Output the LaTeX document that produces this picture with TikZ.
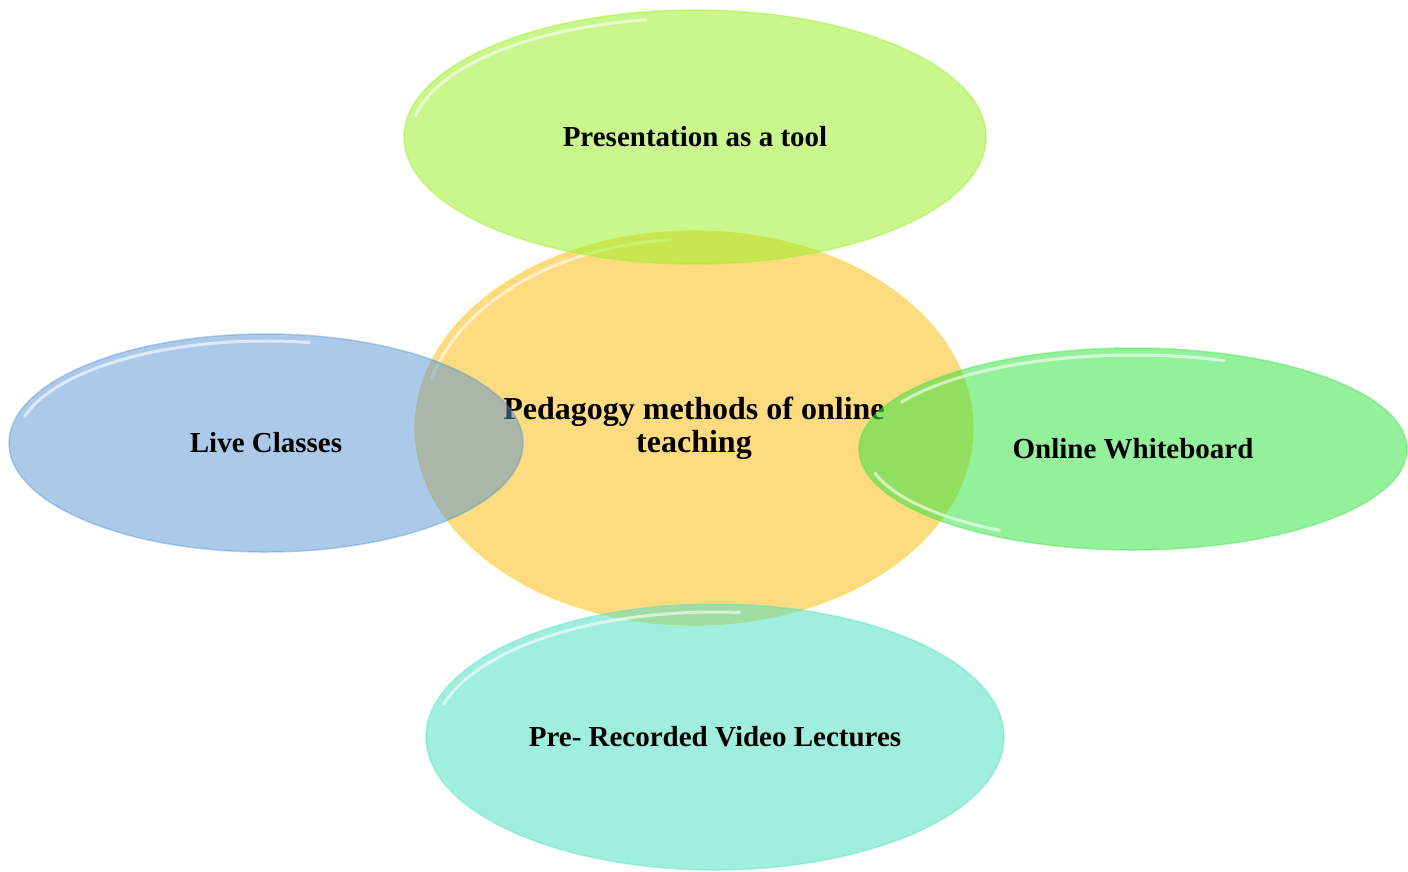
\documentclass[tikz,border=0pt]{standalone}
\usepackage{fontspec}
\setmainfont{Liberation Serif}
\usetikzlibrary{shapes.geometric}
\definecolor{cyel}{RGB}{253,219,126}
\definecolor{cyelb}{RGB}{250,225,110}
\definecolor{cgrn}{RGB}{157,240,44}
\definecolor{cblu}{RGB}{87,147,211}
\definecolor{cwb}{RGB}{59,228,73}
\definecolor{cteal}{RGB}{82,224,193}
\begin{document}
\begin{tikzpicture}[x=1pt,y=-1pt,
  blob/.style={ellipse, inner sep=0pt, align=center, font=\fontsize{29}{32}\selectfont\bfseries, text=black, text opacity=1},
  shine/.style={draw=white, line width=3pt, opacity=0.6, line cap=round}]
\useasboundingbox (0,0) rectangle (1408,871);
% centre
\node[blob, font=\fontsize{32}{33}\selectfont\bfseries, fill=cyel, draw=cyelb, line width=1.2pt, minimum width=558pt, minimum height=394pt] (c) at (694,428) {Pedagogy methods of online\\teaching};
\draw[shine] (c.center) ++(-95:272 and 189) arc[start angle=-95, end angle=-165, x radius=272, y radius=189];
% top
\node[blob, fill=cgrn, fill opacity=0.55, draw=cgrn, draw opacity=0.45, line width=1.5pt, minimum width=582pt, minimum height=254pt] (t) at (695,137) {Presentation as a tool};
\draw[shine] (t.center) ++(-100:284 and 119) arc[start angle=-100, end angle=-170, x radius=284, y radius=119];
% left
\node[blob, fill=cblu, fill opacity=0.5, draw=cblu, draw opacity=0.4, line width=1.5pt, minimum width=514pt, minimum height=218pt] (l) at (266,443) {Live Classes};
\draw[shine] (l.center) ++(-80:250 and 102) arc[start angle=-80, end angle=-165, x radius=250, y radius=102];
% right
\node[blob, fill=cwb, fill opacity=0.55, draw=cwb, draw opacity=0.4, line width=1.5pt, minimum width=548pt, minimum height=202pt] (r) at (1133,449) {Online Whiteboard};
\draw[shine] (r.center) ++(-70:267 and 94) arc[start angle=-70, end angle=-150, x radius=267, y radius=94];
\draw[shine] (r.center) ++(-195:267 and 94) arc[start angle=-195, end angle=-240, x radius=267, y radius=94];
% bottom
\node[blob, fill=cteal, fill opacity=0.55, draw=cteal, draw opacity=0.4, line width=1.5pt, minimum width=578pt, minimum height=266pt] (b) at (715,737) {Pre- Recorded Video Lectures};
\draw[shine] (b.center) ++(-85:281 and 125) arc[start angle=-85, end angle=-165, x radius=281, y radius=125];
\end{tikzpicture}
\end{document}
